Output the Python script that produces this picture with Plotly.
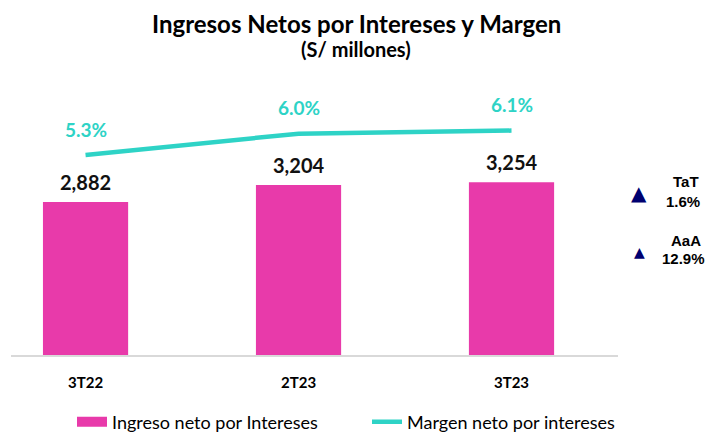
import plotly.graph_objects as go

categories = ["3T22", "2T23", "3T23"]
ingreso = [2882, 3204, 3254]
margen = [5.3, 6.0, 6.1]
ingreso_labels = ["2,882", "3,204", "3,254"]
margen_labels = ["5.3%", "6.0%", "6.1%"]
var_names = ["TaT", "AaA"]
var_values = ["1.6%", "12.9%"]

PINK = "#E83AAA"
CYAN = "#2ED3C6"
NAVY = "#000070"

W, H = 705, 434
L, R, T, B = 11, 618, 80, 355   # plot box in pixels


def px(x):
    return (x - L) / (R - L)


def py(y):
    return (B - y) / (B - T)


fig = go.Figure()
fig.add_trace(go.Bar(x=categories, y=ingreso, marker=dict(color=PINK, line=dict(width=0)),
                     width=0.4, showlegend=False, name="Ingreso neto por Intereses"))
fig.add_trace(go.Scatter(x=[None], y=[None], mode="lines", line=dict(color=PINK, width=10),
                         name="Ingreso neto por Intereses", showlegend=True))
fig.add_trace(go.Scatter(x=categories, y=margen, yaxis="y2", mode="lines",
                         line=dict(color=CYAN, width=4.5), name="Margen neto por intereses"))

ann = []
for c, v, t in zip(categories, ingreso, ingreso_labels):
    ann.append(dict(x=c, y=v, xref="x", yref="y", text=t, showarrow=False, yanchor="middle",
                    yshift=20, font=dict(family="Lato", size=20, color="#111111", weight="bold")))
for c, v, t in zip(categories, margen, margen_labels):
    ann.append(dict(x=c, y=v, xref="x", yref="y2", text=t, showarrow=False, yanchor="middle",
                    yshift=26, font=dict(family="Lato", size=19, color=CYAN, weight="bold")))

ann.append(dict(x=px(356), y=py(23), xref="paper", yref="paper", showarrow=False,
                text="Ingresos Netos por Intereses y Margen", xanchor="center", yanchor="middle",
                font=dict(family="Lato", size=24, color="#000000", weight="bold")))
ann.append(dict(x=px(356), y=py(49), xref="paper", yref="paper", showarrow=False,
                text="(S/ millones)", xanchor="center", yanchor="middle",
                font=dict(family="Lato", size=20, color="#000000", weight="bold")))

tri_y = [193, 252]
tri_size = [20, 14]
name_y = [181, 240]
val_y = [201, 258]
for i in range(2):
    ann.append(dict(x=px(639), y=py(tri_y[i]), xref="paper", yref="paper", showarrow=False,
                    text="\u25B2", xanchor="center", yanchor="middle",
                    font=dict(family="DejaVu Sans", size=tri_size[i], color=NAVY)))
    ann.append(dict(x=px(686), y=py(name_y[i]), xref="paper", yref="paper", showarrow=False,
                    text=var_names[i], xanchor="center", yanchor="middle",
                    font=dict(family="Liberation Sans", size=15, color="#000000", weight="bold")))
    ann.append(dict(x=px(683), y=py(val_y[i]), xref="paper", yref="paper", showarrow=False,
                    text=var_values[i], xanchor="center", yanchor="middle",
                    font=dict(family="Liberation Sans", size=15, color="#000000", weight="bold")))

fig.update_layout(
    width=W, height=H,
    margin=dict(l=L, r=W - R, t=T, b=H - B, pad=0, autoexpand=False),
    paper_bgcolor="white", plot_bgcolor="white",
    xaxis=dict(type="category", range=[-0.35, 2.5], showgrid=False, zeroline=False,
               showline=True, linecolor="#D9D9D9", linewidth=2, ticks="",
               ticklabelstandoff=13,
               tickfont=dict(family="Lato", size=15, color="#000000", weight="bold")),
    yaxis=dict(range=[0, 5180], visible=False, showgrid=False, zeroline=False),
    yaxis2=dict(range=[-1.257, 7.759], overlaying="y", visible=False, showgrid=False,
                zeroline=False),
    legend=dict(orientation="h", x=px(72), xanchor="left", y=py(422), yanchor="middle",
                entrywidth=250, entrywidthmode="pixels", bgcolor="rgba(0,0,0,0)",
                font=dict(family="Lato", size=18, color="#000000")),
    annotations=ann,
    showlegend=True,
)

fig.write_html("out.html", config={"displayModeBar": False},
               post_script="document.body.style.margin='0';document.body.style.overflow='hidden';")
